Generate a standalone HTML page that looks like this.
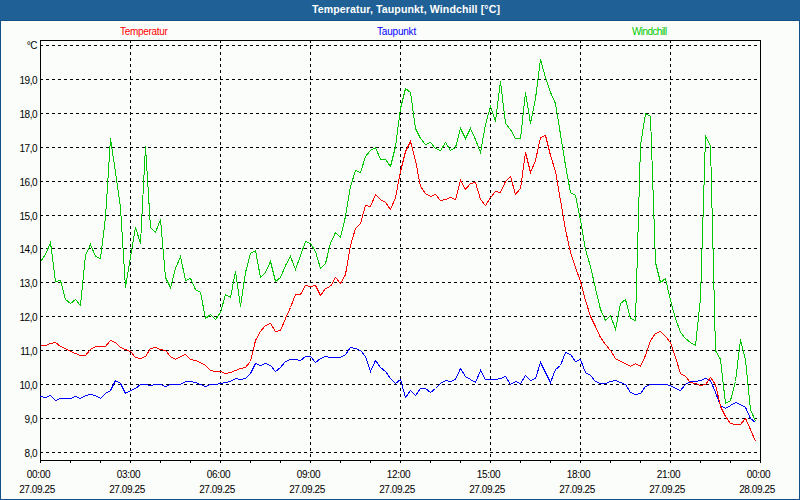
<!DOCTYPE html>
<html><head><meta charset="utf-8"><style>
html,body{margin:0;padding:0;}
body{width:800px;height:500px;overflow:hidden;position:relative;background:#fbfdfa;font-family:"Liberation Sans",sans-serif;}
#frame{position:absolute;left:0;top:0;width:798px;height:499px;border-left:1px solid #0f508c;border-right:1px solid #0f508c;border-bottom:1px solid #0f508c;}
#bar{position:absolute;left:0;top:0;width:800px;height:20px;background:#1e6192;border-bottom:1px solid #10508a;}
#title{position:absolute;left:312px;top:2px;color:#fff;font-weight:bold;font-size:10.6px;letter-spacing:0.1px;line-height:14px;white-space:nowrap;}
.lg{position:absolute;top:25px;font-size:10px;line-height:14px;white-space:nowrap;}
.yl{position:absolute;left:0;width:37px;text-align:right;font-size:10px;line-height:14px;color:#000;letter-spacing:-0.5px;}
.xl{position:absolute;width:60px;text-align:center;font-size:10px;line-height:14px;color:#000;}
.xt{letter-spacing:-0.3px;}
.xd{letter-spacing:-0.4px;}
svg{position:absolute;left:0;top:0;}
</style></head><body>
<div id="frame"></div>
<div id="bar"><svg width="800" height="20" style="position:absolute;left:0;top:0" shape-rendering="crispEdges"><defs><pattern id="dith" x="0" y="0" width="8" height="20" patternUnits="userSpaceOnUse"><rect width="8" height="20" fill="#1e6192"/><g fill="#235ca9"><rect x="4" y="0" width="1" height="1"/><rect x="0" y="1" width="1" height="1"/><rect x="5" y="2" width="1" height="1"/><rect x="2" y="2" width="1" height="1"/><rect x="7" y="4" width="1" height="1"/><rect x="4" y="5" width="1" height="1"/><rect x="1" y="5" width="1" height="1"/><rect x="7" y="7" width="1" height="1"/><rect x="3" y="8" width="1" height="1"/><rect x="5" y="9" width="1" height="1"/><rect x="1" y="9" width="1" height="1"/><rect x="4" y="11" width="1" height="1"/><rect x="0" y="11" width="1" height="1"/><rect x="6" y="13" width="1" height="1"/><rect x="2" y="13" width="1" height="1"/><rect x="5" y="15" width="1" height="1"/><rect x="1" y="15" width="1" height="1"/><rect x="4" y="17" width="1" height="1"/><rect x="0" y="17" width="1" height="1"/><rect x="6" y="19" width="1" height="1"/><rect x="2" y="19" width="1" height="1"/></g></pattern></defs><rect width="800" height="20" fill="url(#dith)"/></svg></div>
<div id="title">Temperatur, Taupunkt, Windchill [°C]</div>
<div class="lg" style="left:120px;color:#ff0000;letter-spacing:-0.3px">Temperatur</div>
<div class="lg" style="left:377px;color:#0000ff;letter-spacing:-0.2px">Taupunkt</div>
<div class="lg" style="left:632px;color:#00c800;letter-spacing:-0.6px">Windchill</div>
<div class="yl" style="top:39px">°C</div>
<div class="yl" style="top:74px">19,0</div>
<div class="yl" style="top:108px">18,0</div>
<div class="yl" style="top:142px">17,0</div>
<div class="yl" style="top:176px">16,0</div>
<div class="yl" style="top:210px">15,0</div>
<div class="yl" style="top:243px">14,0</div>
<div class="yl" style="top:277px">13,0</div>
<div class="yl" style="top:311px">12,0</div>
<div class="yl" style="top:345px">11,0</div>
<div class="yl" style="top:379px">10,0</div>
<div class="yl" style="top:413px">9,0</div>
<div class="yl" style="top:447px">8,0</div>
<div class="xl xt" style="left:8.5px;top:468px">00:00</div>
<div class="xl xd" style="left:7px;top:483px">27.09.25</div>
<div class="xl xt" style="left:98.5px;top:468px">03:00</div>
<div class="xl xd" style="left:97px;top:483px">27.09.25</div>
<div class="xl xt" style="left:188.5px;top:468px">06:00</div>
<div class="xl xd" style="left:187px;top:483px">27.09.25</div>
<div class="xl xt" style="left:278.5px;top:468px">09:00</div>
<div class="xl xd" style="left:277px;top:483px">27.09.25</div>
<div class="xl xt" style="left:368.5px;top:468px">12:00</div>
<div class="xl xd" style="left:367px;top:483px">27.09.25</div>
<div class="xl xt" style="left:458.5px;top:468px">15:00</div>
<div class="xl xd" style="left:457px;top:483px">27.09.25</div>
<div class="xl xt" style="left:548.5px;top:468px">18:00</div>
<div class="xl xd" style="left:547px;top:483px">27.09.25</div>
<div class="xl xt" style="left:638.5px;top:468px">21:00</div>
<div class="xl xd" style="left:637px;top:483px">27.09.25</div>
<div class="xl xt" style="left:728.5px;top:468px">00:00</div>
<div class="xl xd" style="left:727px;top:483px">28.09.25</div>

<svg width="800" height="500" shape-rendering="crispEdges">
<path d="M40 45.5H760M40 79.5H760M40 113.5H760M40 147.5H760M40 181.5H760M40 215.5H760M40 248.5H760M40 282.5H760M40 316.5H760M40 350.5H760M40 384.5H760M40 418.5H760M40 452.5H760M130.5 40V460M220.5 40V460M310.5 40V460M400.5 40V460M490.5 40V460M580.5 40V460M670.5 40V460" stroke="#000" stroke-width="1" stroke-dasharray="3 3" fill="none"/>
<path d="M40.5 40.5H760.5V460.5H40.5Z" stroke="#000" stroke-width="1" fill="none"/>
<path d="M40.5 460V463M70.5 460V463M100.5 460V463M130.5 460V463M160.5 460V463M190.5 460V463M220.5 460V463M250.5 460V463M280.5 460V463M310.5 460V463M340.5 460V463M370.5 460V463M400.5 460V463M430.5 460V463M460.5 460V463M490.5 460V463M520.5 460V463M550.5 460V463M580.5 460V463M610.5 460V463M640.5 460V463M670.5 460V463M700.5 460V463M730.5 460V463M760.5 460V463" stroke="#000" stroke-width="1" fill="none"/>
<polyline points="40.5,261.5 45.5,254.5 50.5,242.5 55.5,281.5 60.5,280.5 65.5,299.5 70.5,303.5 75.5,299.5 80.5,305.5 85.5,255.5 90.5,244.5 95.5,256.5 100.5,258.5 105.5,217.5 110.5,138.5 115.5,172.5 120.5,207.5 125.5,287.5 130.5,257.5 135.5,227.5 140.5,243.5 145.5,146.5 150.5,227.5 155.5,232.5 160.5,219.5 165.5,277.5 170.5,287.5 175.5,268.5 180.5,256.5 185.5,280.5 190.5,278.5 195.5,289.5 200.5,292.5 205.5,318.5 210.5,314.5 215.5,319.5 220.5,312.5 225.5,294.5 230.5,297.5 235.5,271.5 240.5,306.5 245.5,272.5 250.5,253.5 255.5,250.5 260.5,277.5 265.5,272.5 270.5,261.5 275.5,281.5 280.5,277.5 285.5,265.5 290.5,256.5 295.5,269.5 300.5,255.5 305.5,241.5 310.5,243.5 315.5,251.5 320.5,268.5 325.5,263.5 330.5,243.5 335.5,232.5 340.5,237.5 345.5,216.5 350.5,186.5 355.5,170.5 360.5,172.5 365.5,156.5 370.5,150.5 375.5,147.5 380.5,159.5 385.5,159.5 390.5,166.5 395.5,146.5 400.5,108.5 405.5,88.5 410.5,92.5 415.5,128.5 420.5,138.5 425.5,144.5 430.5,142.5 435.5,148.5 440.5,150.5 445.5,142.5 450.5,150.5 455.5,147.5 460.5,128.5 465.5,138.5 470.5,128.5 475.5,139.5 480.5,152.5 485.5,124.5 490.5,106.5 495.5,121.5 500.5,81.5 505.5,123.5 510.5,129.5 515.5,138.5 520.5,138.5 525.5,92.5 530.5,123.5 535.5,98.5 540.5,59.5 545.5,77.5 550.5,92.5 555.5,103.5 560.5,134.5 565.5,165.5 570.5,192.5 575.5,195.5 580.5,220.5 585.5,249.5 590.5,266.5 595.5,288.5 600.5,309.5 605.5,320.5 610.5,315.5 615.5,329.5 620.5,303.5 625.5,299.5 630.5,318.5 635.5,320.5 640.5,145.5 645.5,113.5 650.5,116.5 655.5,262.5 660.5,282.5 665.5,278.5 670.5,300.5 675.5,318.5 680.5,332.5 685.5,338.5 690.5,342.5 695.5,345.5 700.5,298.5 705.5,136.5 710.5,145.5 715.5,350.5 720.5,359.5 725.5,403.5 730.5,400.5 735.5,381.5 740.5,339.5 745.5,359.5 750.5,409.5 755.5,421.5" stroke="#00c800" stroke-width="1" fill="none"/>
<polyline points="40.5,396.5 45.5,397.5 50.5,395.5 55.5,400.5 60.5,398.5 65.5,398.5 70.5,398.5 75.5,396.5 80.5,398.5 85.5,395.5 90.5,394.5 95.5,395.5 100.5,398.5 105.5,393.5 110.5,390.5 115.5,380.5 120.5,383.5 125.5,393.5 130.5,390.5 135.5,388.5 140.5,384.5 145.5,384.5 150.5,385.5 155.5,384.5 160.5,384.5 165.5,386.5 170.5,384.5 175.5,384.5 180.5,384.5 185.5,381.5 190.5,381.5 195.5,382.5 200.5,384.5 205.5,386.5 210.5,384.5 215.5,384.5 220.5,383.5 225.5,382.5 230.5,381.5 235.5,378.5 240.5,379.5 245.5,378.5 250.5,373.5 255.5,363.5 260.5,365.5 265.5,363.5 270.5,365.5 275.5,371.5 280.5,367.5 285.5,361.5 290.5,359.5 295.5,359.5 300.5,360.5 305.5,356.5 310.5,356.5 315.5,362.5 320.5,358.5 325.5,356.5 330.5,357.5 335.5,357.5 340.5,357.5 345.5,354.5 350.5,347.5 355.5,348.5 360.5,350.5 365.5,356.5 370.5,371.5 375.5,360.5 380.5,367.5 385.5,371.5 390.5,378.5 395.5,383.5 400.5,379.5 405.5,397.5 410.5,390.5 415.5,395.5 420.5,388.5 425.5,388.5 430.5,392.5 435.5,388.5 440.5,383.5 445.5,380.5 450.5,381.5 455.5,379.5 460.5,368.5 465.5,376.5 470.5,379.5 475.5,382.5 480.5,370.5 485.5,379.5 490.5,379.5 495.5,379.5 500.5,378.5 505.5,376.5 510.5,384.5 515.5,381.5 520.5,383.5 525.5,375.5 530.5,380.5 535.5,378.5 540.5,362.5 545.5,372.5 550.5,382.5 555.5,369.5 560.5,365.5 565.5,352.5 570.5,354.5 575.5,361.5 580.5,359.5 585.5,372.5 590.5,375.5 595.5,381.5 600.5,383.5 605.5,383.5 610.5,381.5 615.5,380.5 620.5,382.5 625.5,384.5 630.5,392.5 635.5,394.5 640.5,393.5 645.5,386.5 650.5,384.5 655.5,384.5 660.5,384.5 665.5,384.5 670.5,385.5 675.5,388.5 680.5,390.5 685.5,384.5 690.5,381.5 695.5,381.5 700.5,380.5 705.5,378.5 710.5,380.5 715.5,392.5 720.5,405.5 725.5,408.5 730.5,405.5 735.5,402.5 740.5,404.5 745.5,407.5 750.5,418.5 755.5,422.5" stroke="#0000ff" stroke-width="1" fill="none"/>
<polyline points="40.5,345.5 45.5,345.5 50.5,343.5 55.5,342.5 60.5,346.5 65.5,348.5 70.5,351.5 75.5,353.5 80.5,355.5 85.5,355.5 90.5,349.5 95.5,346.5 100.5,346.5 105.5,346.5 110.5,340.5 115.5,342.5 120.5,347.5 125.5,349.5 130.5,351.5 135.5,357.5 140.5,358.5 145.5,356.5 150.5,348.5 155.5,347.5 160.5,349.5 165.5,350.5 170.5,356.5 175.5,359.5 180.5,356.5 185.5,354.5 190.5,359.5 195.5,360.5 200.5,362.5 205.5,365.5 210.5,370.5 215.5,371.5 220.5,371.5 225.5,373.5 230.5,372.5 235.5,370.5 240.5,368.5 245.5,367.5 250.5,361.5 255.5,340.5 260.5,331.5 265.5,325.5 270.5,323.5 275.5,331.5 280.5,330.5 285.5,318.5 290.5,307.5 295.5,294.5 300.5,294.5 305.5,285.5 310.5,286.5 315.5,285.5 320.5,295.5 325.5,288.5 330.5,286.5 335.5,277.5 340.5,283.5 345.5,274.5 350.5,245.5 355.5,228.5 360.5,223.5 365.5,205.5 370.5,206.5 375.5,194.5 380.5,199.5 385.5,202.5 390.5,209.5 395.5,197.5 400.5,171.5 405.5,151.5 410.5,141.5 415.5,160.5 420.5,186.5 425.5,193.5 430.5,196.5 435.5,194.5 440.5,200.5 445.5,199.5 450.5,197.5 455.5,199.5 460.5,180.5 465.5,189.5 470.5,183.5 475.5,182.5 480.5,199.5 485.5,205.5 490.5,197.5 495.5,191.5 500.5,192.5 505.5,181.5 510.5,176.5 515.5,194.5 520.5,188.5 525.5,152.5 530.5,172.5 535.5,160.5 540.5,137.5 545.5,135.5 550.5,155.5 555.5,171.5 560.5,200.5 565.5,229.5 570.5,252.5 575.5,267.5 580.5,281.5 585.5,300.5 590.5,316.5 595.5,326.5 600.5,337.5 605.5,344.5 610.5,350.5 615.5,358.5 620.5,361.5 625.5,363.5 630.5,366.5 635.5,363.5 640.5,366.5 645.5,355.5 650.5,340.5 655.5,333.5 660.5,331.5 665.5,336.5 670.5,342.5 675.5,357.5 680.5,373.5 685.5,376.5 690.5,382.5 695.5,383.5 700.5,385.5 705.5,384.5 710.5,377.5 715.5,384.5 720.5,406.5 725.5,416.5 730.5,423.5 735.5,424.5 740.5,424.5 745.5,418.5 750.5,429.5 755.5,441.5" stroke="#ff0000" stroke-width="1" fill="none"/>
</svg>
</body></html>
